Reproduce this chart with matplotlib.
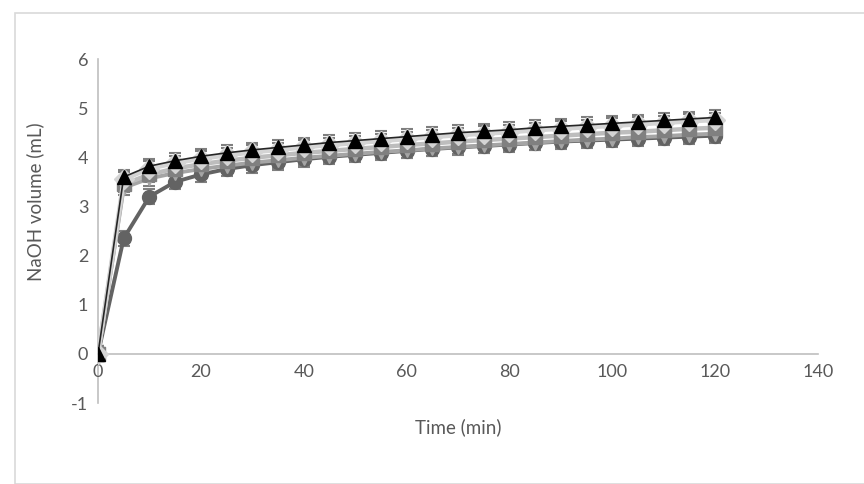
import matplotlib
matplotlib.use('Agg')
from matplotlib import pyplot as plt
from matplotlib.patches import Rectangle
import numpy as np

# time points (min)
time = list(range(0, 125, 5))

# NaOH volume (mL) per series
tri_up = [0, 3.60, 3.82, 3.93, 4.02, 4.09, 4.15, 4.20, 4.25, 4.30, 4.34, 4.38, 4.42,
          4.46, 4.50, 4.53, 4.56, 4.60, 4.63, 4.66, 4.69, 4.72, 4.75, 4.78, 4.81]
light = [0, 3.55, 3.77, 3.88, 3.97, 4.04, 4.10, 4.15, 4.20, 4.25, 4.29, 4.33, 4.37,
         4.41, 4.45, 4.48, 4.51, 4.55, 4.58, 4.61, 4.64, 4.67, 4.70, 4.73, 4.76]
square = [0, 3.45, 3.65, 3.77, 3.86, 3.93, 3.99, 4.04, 4.09, 4.13, 4.17, 4.21, 4.25,
          4.28, 4.32, 4.35, 4.38, 4.41, 4.44, 4.47, 4.50, 4.52, 4.55, 4.58, 4.60]
tri_down = [0, 3.38, 3.57, 3.68, 3.76, 3.83, 3.89, 3.94, 3.99, 4.03, 4.07, 4.11, 4.14,
            4.18, 4.21, 4.24, 4.27, 4.30, 4.33, 4.36, 4.38, 4.41, 4.43, 4.46, 4.48]
circle = [0, 2.35, 3.20, 3.50, 3.65, 3.76, 3.84, 3.90, 3.96, 4.01, 4.05, 4.09, 4.13,
          4.17, 4.20, 4.23, 4.26, 4.29, 4.32, 4.34, 4.36, 4.38, 4.40, 4.42, 4.44]
err = 0.15

plt.rcParams['font.family'] = ['Lato', 'DejaVu Sans']
plt.rcParams['axes.unicode_minus'] = False

fig = plt.figure(figsize=(8.64, 4.84), dpi=100)
fig.patches.append(Rectangle((15 / 864, 0), 1, 1 - 13 / 484, transform=fig.transFigure,
                             fill=False, edgecolor='#d9d9d9', lw=1.2))
ax = fig.add_axes([98 / 864, 1 - 403 / 484, 720 / 864, 344 / 484])

# (values, marker, marker colour, line colour, line width)
series = [
    (circle, 'o', '#636363', '#636363', 2.8),
    (tri_down, 'v', '#a5a5a5', '#a5a5a5', 2.8),
    (square, 's', '#808080', '#bdbdbd', 3.2),
    (light, 'D', '#d4d4d4', '#d4d4d4', 3.2),
    (tri_up, '^', '#000000', '#262626', 1.2),
]
for vals, mk, mcol, lcol, lw in series:
    ax.errorbar(time, vals, yerr=err, color=lcol, lw=lw, marker=mk, markersize=10,
                markerfacecolor=mcol, markeredgecolor=mcol,
                ecolor='#7f7f7f', elinewidth=1.2, capsize=4.5, capthick=1.5, zorder=3)

ax.set_xlim(0, 140)
ax.set_ylim(-1, 6)
ax.set_xticks(range(0, 141, 20))
ax.set_yticks(range(-1, 7))

for s in ['top', 'right']:
    ax.spines[s].set_visible(False)
ax.spines['bottom'].set_position(('data', 0))
ax.spines['left'].set_position(('data', 0))
for s in ['bottom', 'left']:
    ax.spines[s].set_color('#bfbfbf')
    ax.spines[s].set_linewidth(1.2)
    ax.spines[s].set_zorder(1)
ax.tick_params(length=0, labelsize=13, colors='#595959', pad=7)

ax.set_xlabel('Time (min)', fontsize=13.5, color='#595959')
ax.set_ylabel('NaOH volume (mL)', fontsize=13.5, color='#595959')
ax.xaxis.set_label_coords(0.5, -0.045)
ax.yaxis.set_label_coords(-0.075, 0.584)

plt.savefig('out.png', dpi=100)
